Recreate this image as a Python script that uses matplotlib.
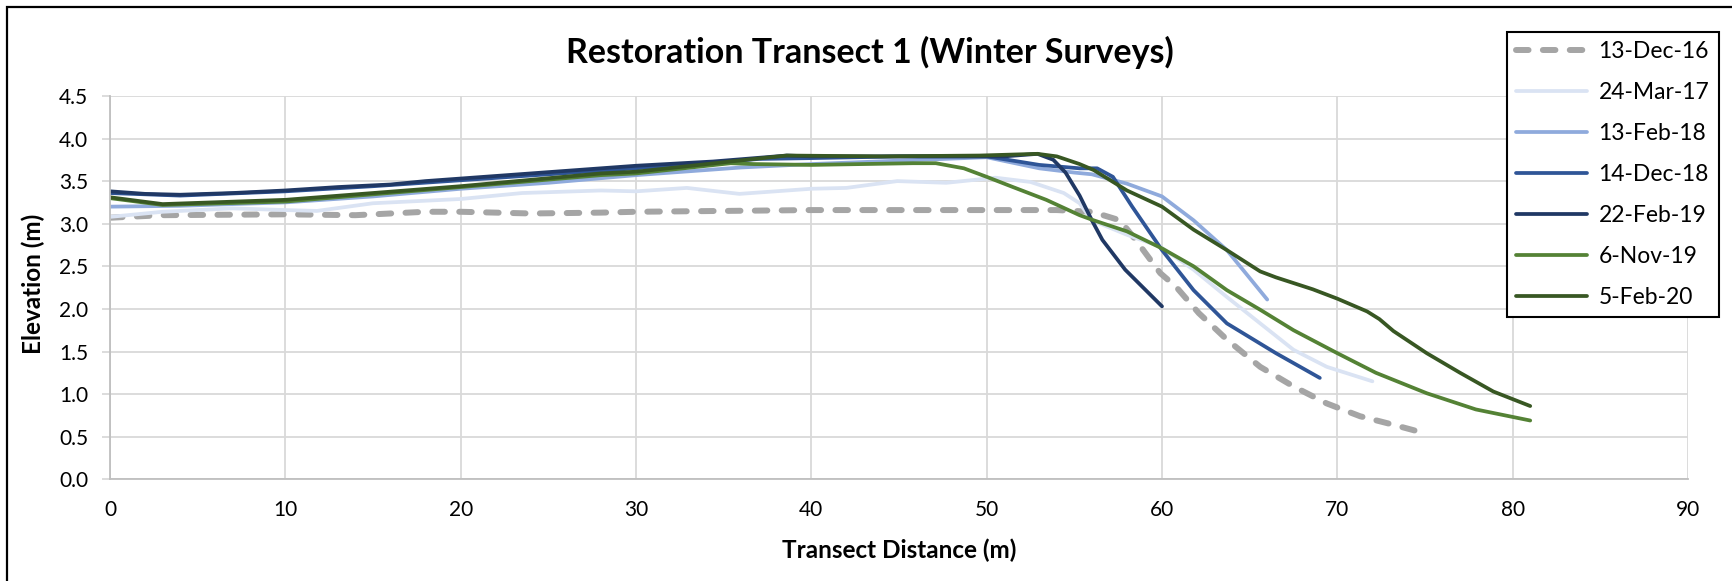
import matplotlib
matplotlib.use("Agg")
import matplotlib.pyplot as plt
from matplotlib.patches import Rectangle

plt.rcParams['font.family'] = ['Lato', 'DejaVu Sans']

# survey profiles (distance m, elevation m)
labels = ['13-Dec-16', '24-Mar-17', '13-Feb-18', '14-Dec-18', '22-Feb-19', '6-Nov-19', '5-Feb-20']

x_dec16 = [0, 3, 10, 14, 18, 20, 24, 28, 30, 35, 40, 45, 50, 54, 56, 57.6, 58.5, 59.9, 60.8, 62.1,
           63.7, 65.6, 67.5, 69.4, 71.3, 73.2, 75]
y_dec16 = [3.07, 3.10, 3.11, 3.10, 3.14, 3.14, 3.12, 3.13, 3.14, 3.15, 3.16, 3.16, 3.16, 3.16, 3.14, 3.04,
           2.81, 2.42, 2.26, 1.95, 1.64, 1.32, 1.09, 0.89, 0.74, 0.64, 0.54]

x_mar17 = [0, 3, 7, 10, 11.8, 15, 20, 23.5, 28, 30, 32.9, 35.9, 40, 42, 44.9, 47.7, 50.5, 52.5, 54.4,
           55.3, 56, 58, 59.9, 61.8, 63.7, 65.6, 67.5, 69.4, 72]
y_mar17 = [3.08, 3.14, 3.18, 3.16, 3.15, 3.24, 3.29, 3.36, 3.39, 3.38, 3.42, 3.35, 3.41, 3.42, 3.50, 3.48,
           3.54, 3.49, 3.36, 3.24, 3.04, 2.87, 2.73, 2.46, 2.14, 1.83, 1.52, 1.32, 1.15]

x_feb18 = [0, 4, 10, 15, 20, 25, 30, 36, 40, 45, 50, 53, 55, 56, 58, 60, 61.8, 63.7, 66]
y_feb18 = [3.20, 3.21, 3.25, 3.32, 3.41, 3.48, 3.57, 3.66, 3.70, 3.74, 3.78, 3.65, 3.60, 3.58, 3.47, 3.32,
           3.04, 2.69, 2.11]

x_dec18 = [0, 4, 10, 15, 20, 25, 30, 34, 37, 40, 45, 50, 53, 55.3, 56.3, 57.2, 58.3, 60, 61.8, 63.7,
           66.5, 69]
y_dec18 = [3.36, 3.33, 3.38, 3.44, 3.51, 3.58, 3.65, 3.71, 3.76, 3.77, 3.79, 3.79, 3.69, 3.65, 3.65, 3.55,
           3.20, 2.69, 2.22, 1.83, 1.48, 1.19]

x_feb19 = [0, 2, 4, 7, 10, 13, 16, 18, 20, 24, 28, 30, 34.4, 38.6, 40, 44, 49.6, 51, 52.9, 53.8, 54.5,
           55.3, 56, 56.6, 57.9, 60]
y_feb19 = [3.38, 3.35, 3.34, 3.36, 3.39, 3.43, 3.46, 3.50, 3.53, 3.59, 3.65, 3.68, 3.73, 3.80, 3.79, 3.79,
           3.79, 3.79, 3.82, 3.75, 3.60, 3.33, 3.04, 2.81, 2.46, 2.03]

x_nov19 = [0, 3, 10, 20, 28, 30, 35.4, 36.7, 40, 45.8, 47.1, 48.7, 50, 51.5, 53.4, 55.3, 56.1, 58, 60,
           61.8, 63.7, 65.6, 67.5, 70, 72.2, 75.1, 77.9, 81]
y_nov19 = [3.30, 3.22, 3.26, 3.43, 3.57, 3.59, 3.71, 3.70, 3.69, 3.71, 3.71, 3.65, 3.55, 3.43, 3.28, 3.10,
           3.04, 2.91, 2.71, 2.50, 2.22, 1.99, 1.75, 1.48, 1.25, 1.01, 0.82, 0.69]

x_feb20 = [0, 3, 10, 20, 28, 30, 36.3, 38.6, 44, 49.6, 52.9, 54, 55.3, 56.1, 58, 60, 61.8, 63.7, 65.6,
           66.5, 68.6, 70, 71.7, 72.4, 73.2, 75.1, 77, 78.9, 81]
y_feb20 = [3.31, 3.23, 3.28, 3.44, 3.59, 3.61, 3.75, 3.80, 3.79, 3.80, 3.82, 3.79, 3.70, 3.63, 3.39, 3.20,
           2.93, 2.69, 2.44, 2.37, 2.23, 2.12, 1.97, 1.88, 1.74, 1.48, 1.25, 1.03, 0.86]

xs = [x_dec16, x_mar17, x_feb18, x_dec18, x_feb19, x_nov19, x_feb20]
ys = [y_dec16, y_mar17, y_feb18, y_dec18, y_feb19, y_nov19, y_feb20]
colors = ['#A5A5A5', '#DAE3F3', '#8FAADC', '#2F5597', '#203864', '#548235', '#385723']

W, H = 1732, 581
fig = plt.figure(figsize=(W / 100, H / 100), dpi=100)

# outer chart border (only left/top visible in the original crop)
fig.add_artist(Rectangle((7 / W, -0.1), 1.2, 1 - 7 / H + 0.1, transform=fig.transFigure,
                         fill=False, edgecolor='black', linewidth=1.6))

ax = fig.add_axes([110 / W, 1 - 479.3 / H, (1688 - 110) / W, (479.3 - 95.9) / H])

for i in range(len(labels)):
    if i == 0:
        ax.plot(xs[i], ys[i], color=colors[i], lw=4.3, linestyle=(0, (2.1, 2.4)),
                dash_capstyle='round', label=labels[i])
    else:
        ax.plot(xs[i], ys[i], color=colors[i], lw=2.7, solid_capstyle='round',
                solid_joinstyle='round', label=labels[i])

ax.set_xlim(0, 90)
ax.set_ylim(0, 4.5)
ax.set_xticks(range(0, 91, 10))
ax.set_yticks([i * 0.5 for i in range(10)])
ax.set_yticklabels(['%.1f' % (i * 0.5) for i in range(10)])
ax.grid(True, color='#D9D9D9', linewidth=1.3)
ax.set_axisbelow(True)
for s in ['top', 'right']:
    ax.spines[s].set_visible(False)
for s in ['left', 'bottom']:
    ax.spines[s].set_color('#BFBFBF')
    ax.spines[s].set_linewidth(1.3)
ax.tick_params(axis='y', length=5.8, width=1.3, color='#D9D9D9', pad=10, labelsize=15)
ax.tick_params(axis='x', length=0, pad=15, labelsize=15)

fig.text(870 / W, 1 - 52 / H, 'Restoration Transect 1 (Winter Surveys)', ha='center', va='center',
         fontsize=24.5, fontweight='bold')
fig.text(899 / W, 1 - 550 / H, 'Transect Distance (m)', ha='center', va='center',
         fontsize=17.5, fontweight='bold')
fig.text(33 / W, 1 - 284 / H, 'Elevation (m)', ha='center', va='center', rotation=90,
         fontsize=17.5, fontweight='bold')

leg = ax.legend(loc='upper left', bbox_to_anchor=(1507 / W, 1 - 31.7 / H),
                bbox_transform=fig.transFigure, fontsize=16.5, frameon=True, fancybox=False,
                edgecolor='black', framealpha=1, handlelength=3.1, handletextpad=0.48,
                borderpad=0.41, labelspacing=0.87, borderaxespad=0)
leg.get_frame().set_linewidth(1.5)

fig.savefig('out.png', dpi=100)
